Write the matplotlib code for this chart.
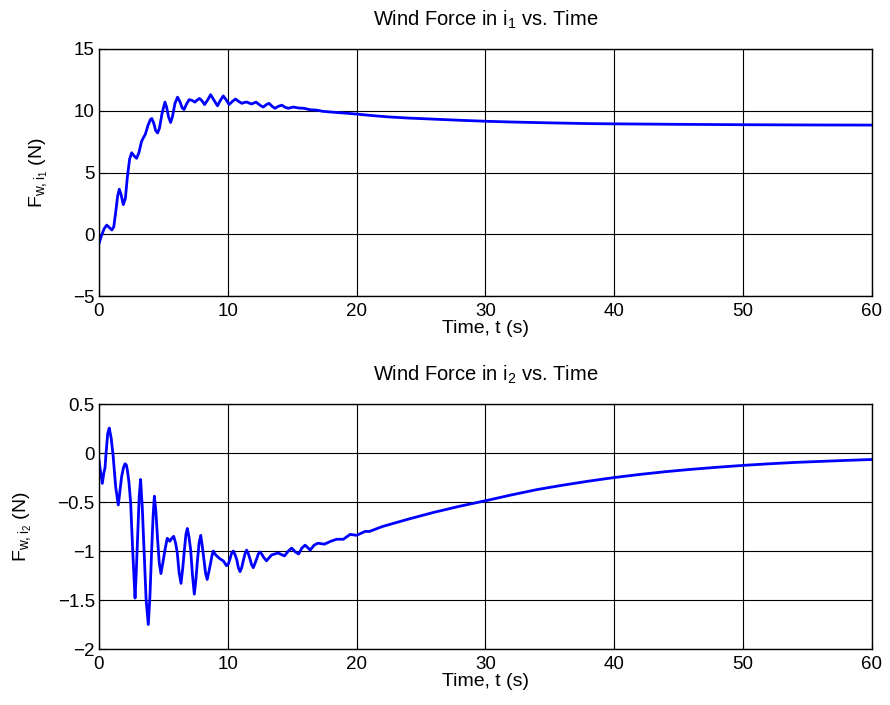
import numpy as np
import matplotlib
matplotlib.use('Agg')
import matplotlib.pyplot as plt
from matplotlib import rc

rc('font', family=['Liberation Sans', 'DejaVu Sans'], size=13)
rc('mathtext', fontset='custom', rm='Liberation Sans', it='Liberation Sans')
rc('axes', linewidth=1.0)

# ---- data ----
t1 = [0.0, 0.2, 0.4, 0.6, 0.8, 1.0, 1.15, 1.3, 1.45, 1.58, 1.72, 1.89, 2.05, 2.2,
      2.38, 2.54, 2.72, 2.92, 3.1, 3.3, 3.44, 3.6, 3.8, 4.0, 4.1, 4.25, 4.4, 4.55,
      4.7, 4.9, 5.12, 5.25, 5.4, 5.56, 5.7, 5.9, 6.1, 6.3, 6.45, 6.6, 6.8, 7.0,
      7.2, 7.45, 7.6, 7.8, 8.0, 8.2, 8.45, 8.67, 8.9, 9.2, 9.4, 9.65, 9.9, 10.1,
      10.35, 10.6, 10.85, 11.1, 11.3, 11.5, 11.7, 11.85, 12.0, 12.2, 12.5, 12.75,
      13.0, 13.2, 13.45, 13.66, 13.9, 14.2, 14.45, 14.7, 15.1, 15.5, 15.9, 16.4,
      16.9, 17.4, 18.45, 19.2, 20.0, 21.3, 22.5, 24.0, 26.0, 28.0, 30.0, 32.0,
      35.0, 38.0, 40.0, 45.0, 50.0, 55.0, 60.0]
f1 = [-0.76, -0.1, 0.45, 0.74, 0.55, 0.35, 0.6, 1.8, 3.1, 3.65, 3.2, 2.4, 2.9, 4.6,
      6.1, 6.6, 6.35, 6.15, 6.6, 7.5, 7.8, 8.1, 8.8, 9.3, 9.37, 9.0, 8.4, 8.2,
      8.6, 9.8, 10.7, 10.3, 9.5, 9.05, 9.5, 10.6, 11.1, 10.7, 10.25, 10.1, 10.55, 10.9,
      10.85, 10.7, 10.85, 11.0, 10.8, 10.5, 10.9, 11.3, 10.9, 10.4, 10.8, 11.2, 10.85, 10.5,
      10.75, 10.95, 10.75, 10.6, 10.68, 10.7, 10.6, 10.55, 10.62, 10.7, 10.45, 10.3,
      10.5, 10.6, 10.35, 10.2, 10.35, 10.45, 10.28, 10.2, 10.3, 10.22, 10.2, 10.08,
      10.05, 9.95, 9.86, 9.8, 9.73, 9.6, 9.5, 9.41, 9.32, 9.23, 9.15, 9.09,
      9.02, 8.96, 8.94, 8.9, 8.87, 8.85, 8.84]

t2 = [0.0, 0.13, 0.26, 0.38, 0.47, 0.55, 0.68, 0.8, 0.95, 1.1, 1.3, 1.5, 1.62, 1.76,
      1.9, 2.02, 2.12, 2.2, 2.33, 2.46, 2.62, 2.8, 2.9, 3.0, 3.12, 3.23, 3.36, 3.5,
      3.66, 3.83, 3.96, 4.09, 4.2, 4.3, 4.42, 4.55, 4.68, 4.81, 4.96, 5.12, 5.3, 5.5,
      5.65, 5.8, 5.95, 6.08, 6.22, 6.37, 6.5, 6.63, 6.75, 6.86, 6.98, 7.12, 7.26, 7.4,
      7.52, 7.63, 7.77, 7.9, 8.02, 8.15, 8.28, 8.4, 8.55, 8.67, 8.78, 8.88, 9.0, 9.14,
      9.4, 9.65, 9.9, 10.05, 10.17, 10.3, 10.43, 10.57, 10.7, 10.82, 10.95, 11.08, 11.2,
      11.33, 11.46, 11.6, 11.72, 11.85, 11.98, 12.1, 12.24, 12.37, 12.5, 12.63, 12.76,
      13.0, 13.2, 13.4, 13.9, 14.4, 14.7, 14.96, 15.25, 15.5, 15.75, 16.0, 16.4, 16.7,
      17.0, 17.5, 18.0, 18.45, 18.97, 19.5, 20.0, 20.65, 21.0, 22.0, 24.0, 26.0, 28.0,
      30.0, 32.0, 34.0, 36.0, 38.0, 40.0, 42.0, 44.0, 46.0, 48.0, 50.0, 52.0, 54.0,
      56.0, 58.0, 60.0]
f2 = [-0.07, -0.2, -0.31, -0.2, -0.15, 0.0, 0.2, 0.255, 0.15, -0.03, -0.35, -0.53, -0.4, -0.24,
      -0.15, -0.11, -0.12, -0.17, -0.3, -0.51, -1.0, -1.48, -1.2, -0.85, -0.45, -0.27, -0.55, -0.99,
      -1.5, -1.75, -1.45, -0.99, -0.65, -0.44, -0.6, -0.88, -1.12, -1.23, -1.12, -0.99, -0.87, -0.9,
      -0.87, -0.85, -0.92, -1.02, -1.22, -1.33, -1.18, -0.99, -0.83, -0.77, -0.85, -0.99, -1.25, -1.44,
      -1.3, -1.12, -0.92, -0.84, -0.95, -1.09, -1.23, -1.29, -1.2, -1.12, -1.04, -1.0, -1.03, -1.05,
      -1.08, -1.1, -1.15, -1.13, -1.08, -1.02, -1.0, -1.04, -1.09, -1.17, -1.21, -1.17, -1.1,
      -1.03, -0.99, -1.03, -1.08, -1.14, -1.17, -1.13, -1.08, -1.03, -1.01, -1.03, -1.06,
      -1.1, -1.07, -1.04, -1.02, -1.05, -1.0, -0.97, -1.01, -1.03, -0.97, -0.94, -0.99, -0.94,
      -0.92, -0.93, -0.9, -0.88, -0.88, -0.83, -0.84, -0.8, -0.8, -0.75, -0.675, -0.605, -0.543,
      -0.487, -0.428, -0.373, -0.328, -0.287, -0.25, -0.218, -0.19, -0.166, -0.145, -0.126, -0.11, -0.096,
      -0.085, -0.075, -0.066]

xticks = [0, 10, 20, 30, 40, 50, 60]
yticks1 = [-5, 0, 5, 10, 15]
yticks2 = [-2, -1.5, -1, -0.5, 0, 0.5]

#======================================
fig = plt.figure(figsize=(8.9, 7.05), dpi=100)
ax1 = fig.add_axes([0.1112, 0.5801, 0.8685, 0.3504])
ax2 = fig.add_axes([0.1112, 0.0794, 0.8685, 0.3475])
#======================================

def style(ax, yt):
    ax.set_xlim(0, 60)
    ax.set_xticks(xticks)
    ax.set_xticklabels(['%g' % v for v in xticks])
    ax.set_ylim(yt[0], yt[-1])
    ax.set_yticks(yt)
    ax.set_yticklabels([('%g' % v).replace('-', '\u2212') for v in yt])
    ax.grid(True, color='k', linestyle='-', linewidth=0.8)
    ax.set_axisbelow(True)
    ax.tick_params(direction='in', length=4, pad=3, labelsize=13.5)
    ax.tick_params(axis='x', pad=5)
    ax.set_xlabel('Time, t (s)', fontsize=14, labelpad=0)

ax1.plot(t1, f1, '-', color='#0000ff', linewidth=2)
style(ax1, yticks1)
ax1.set_title(r'Wind Force in i$_1$ vs. Time', fontsize=14.5, pad=17)
ax1.set_ylabel(r'F$_{w,i_1}$ (N)', fontsize=14, labelpad=17)

ax2.plot(t2, f2, '-', color='#0000ff', linewidth=2)
style(ax2, yticks2)
ax2.set_title(r'Wind Force in i$_2$ vs. Time', fontsize=14.5, pad=17)
ax2.set_ylabel(r'F$_{w,i_2}$ (N)', fontsize=14, labelpad=17)

plt.savefig('out.png', dpi=100)
